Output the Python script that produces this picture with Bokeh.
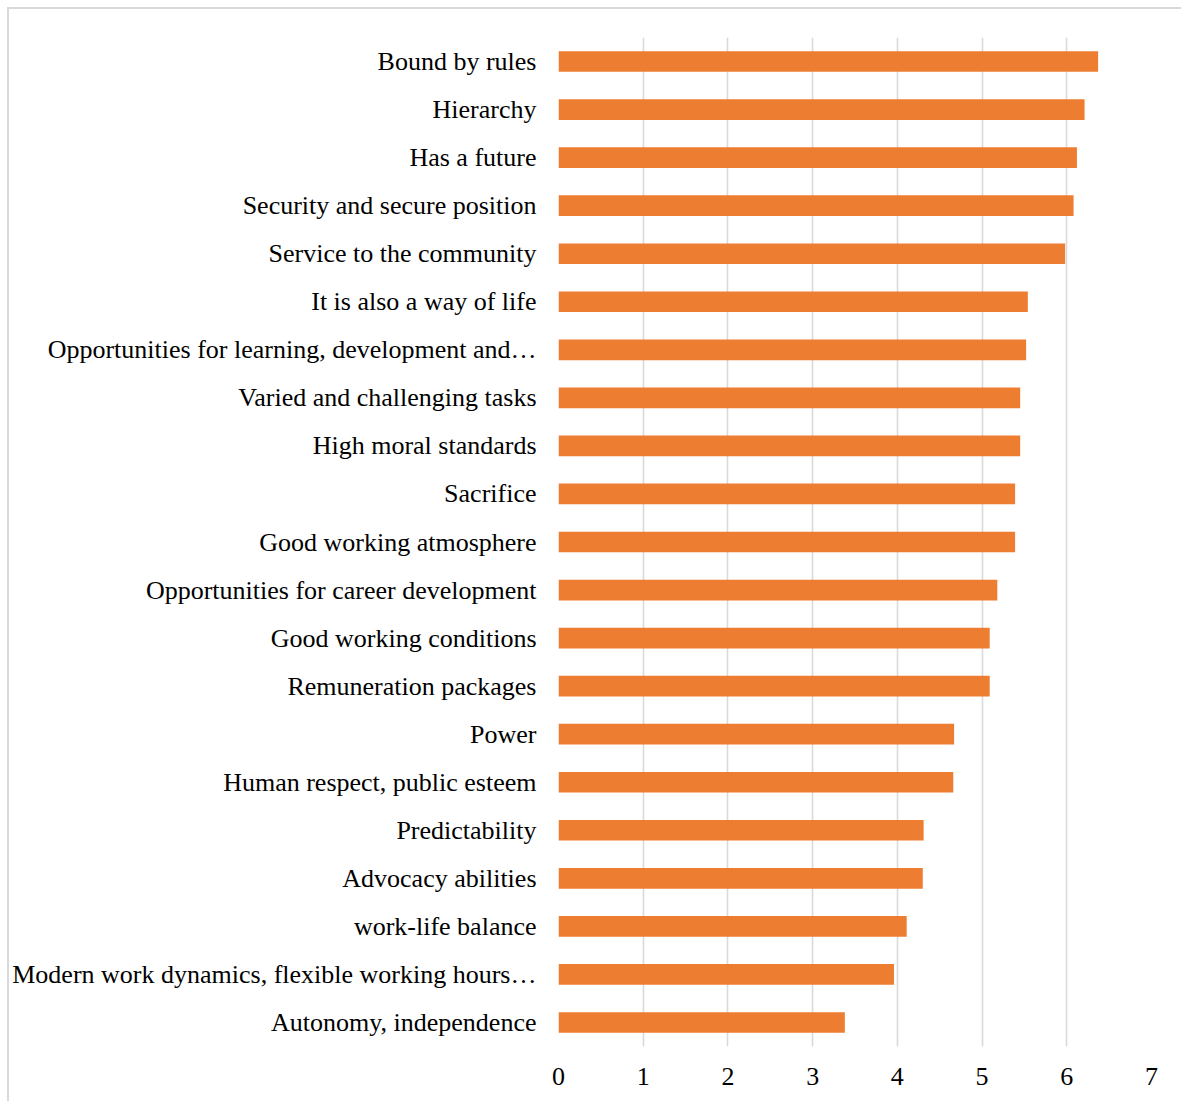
from bokeh.plotting import figure
from bokeh.models import Range1d, FactorRange, FixedTicker
from bokeh.embed import file_html
from bokeh.resources import INLINE

# Mean ratings per attribute, listed from top to bottom
categories = [
    "Bound by rules",
    "Hierarchy",
    "Has a future",
    "Security and secure position",
    "Service to the community",
    "It is also a way of life",
    "Opportunities for learning, development and…",
    "Varied and challenging tasks",
    "High moral standards",
    "Sacrifice",
    "Good working atmosphere",
    "Opportunities for career development",
    "Good working conditions",
    "Remuneration packages",
    "Power",
    "Human respect, public esteem",
    "Predictability",
    "Advocacy abilities",
    "work-life balance",
    "Modern work dynamics, flexible working hours…",
    "Autonomy, independence",
]
values = [6.37, 6.21, 6.12, 6.08, 5.98, 5.54, 5.52, 5.45, 5.45, 5.39, 5.39,
          5.18, 5.09, 5.09, 4.67, 4.66, 4.31, 4.30, 4.11, 3.96, 3.38]
x_ticks = [0, 1, 2, 3, 4, 5, 6, 7]

FONT = "Liberation Serif"
BAR_COLOR = "#ED7D31"
GRID_COLOR = "#d9d9d9"

# bottom-to-top order for the categorical axis
factors = list(reversed(categories))

W, H = 1174, 1094
p = figure(
    width=W, height=H,
    y_range=FactorRange(factors=factors, range_padding=0),
    x_range=Range1d(0, 7),
    output_backend="svg",
    toolbar_location=None,
    min_border_left=548, min_border_right=32,
    min_border_top=28, min_border_bottom=57,
    styles={
        "margin-left": "7px", "margin-top": "7px",
        "border-left": "2px solid #d9d9d9", "border-top": "2px solid #d9d9d9",
    },
)

p.hbar(y=categories, right=values, left=0, height=0.43,
       fill_color=BAR_COLOR, line_color=None)

p.outline_line_color = None
p.background_fill_color = "white"
p.border_fill_color = "white"

# vertical gridlines only
p.ygrid.grid_line_color = None
p.xgrid.ticker = FixedTicker(ticks=x_ticks)
p.xgrid.grid_line_color = GRID_COLOR
p.xgrid.grid_line_width = 1.6

p.xaxis.ticker = FixedTicker(ticks=x_ticks)
for ax in (p.xaxis[0], p.yaxis[0]):
    ax.axis_line_color = None
    ax.major_tick_line_color = None
    ax.minor_tick_line_color = None
    ax.major_tick_in = 0
    ax.major_tick_out = 0
    ax.major_label_text_font = FONT
    ax.major_label_text_font_size = "26px"
    ax.major_label_text_color = "black"

p.yaxis.major_label_standoff = 22
p.xaxis.major_label_standoff = 21

open("out.html", "w").write(file_html(p, INLINE))
